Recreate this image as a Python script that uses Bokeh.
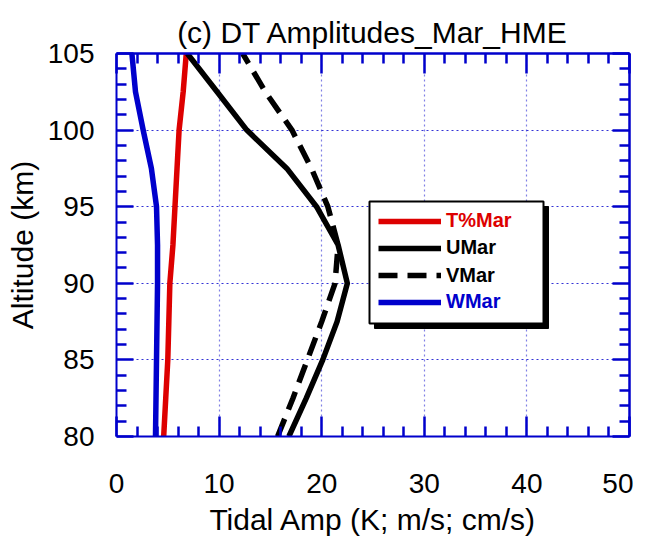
from bokeh.plotting import figure
from bokeh.models import (LinearAxis, Range1d, BoxAnnotation, Legend, LegendItem,
                          FixedTicker)
from bokeh.embed import file_html
from bokeh.resources import INLINE

# ---- data ----
altitude = [80, 82.5, 85, 87.5, 90, 92.5, 95, 97.5, 100, 102.5, 105]
t_mar = [4.6, 4.8, 5.0, 5.1, 5.2, 5.5, 5.7, 5.9, 6.1, 6.5, 6.8]
u_mar = [16.8, 18.5, 20.1, 21.5, 22.5, 21.6, 19.5, 16.6, 12.7, 9.8, 6.9]
v_mar = [15.7, 17.2, 18.6, 20.0, 21.3, 21.6, 20.6, 19.0, 17.1, 14.5, 12.3]
w_mar = [3.8, 3.85, 3.9, 3.95, 4.0, 4.0, 3.9, 3.4, 2.6, 1.85, 1.5]

x_ticks = [0, 10, 20, 30, 40, 50]
x_minor = [2, 4, 6, 8, 12, 14, 16, 18, 22, 24, 26, 28, 32, 34, 36, 38, 42, 44, 46, 48]
y_ticks = [80, 85, 90, 95, 100, 105]
y_minor = [81, 82, 83, 84, 86, 87, 88, 89, 91, 92, 93, 94, 96, 97, 98, 99, 101, 102, 103, 104]

title_text = "(c) DT Amplitudes_Mar_HME"
x_label = "Tidal Amp (K; m/s; cm/s)"
y_label = "Altitude (km)"
series_labels = ["T%Mar", "UMar", "VMar", "WMar"]

BLUE = "#0000CC"
RED = "#DD0000"
FONT = "Liberation Sans"

FL, FT = 116, 53          # frame left / top in figure px
FW, FH = 513, 383
p = figure(frame_width=FW, frame_height=FH,
           x_range=Range1d(0, 50), y_range=Range1d(80, 105),
           output_backend="svg", toolbar_location=None,
           min_border_left=FL, min_border_right=4,
           min_border_top=FT, min_border_bottom=100,
           background_fill_color="white", border_fill_color="white")
p.outline_line_color = None

xt = FixedTicker(ticks=x_ticks, minor_ticks=x_minor)
yt = FixedTicker(ticks=y_ticks, minor_ticks=y_minor)

def style_ticks(ax, major_in):
    ax.axis_line_color = BLUE
    ax.axis_line_width = 2
    ax.major_tick_line_color = BLUE
    ax.major_tick_line_width = 2.5
    ax.minor_tick_line_color = BLUE
    ax.minor_tick_line_width = 2.5
    ax.major_tick_in = major_in
    ax.major_tick_out = 0
    ax.minor_tick_in = 10
    ax.minor_tick_out = 0

xa = p.xaxis[0]
ya = p.yaxis[0]
xa.ticker = xt
ya.ticker = yt
style_ticks(xa, 20)
style_ticks(ya, 17)
for ax in (xa, ya):
    ax.major_label_text_font = FONT
    ax.major_label_text_font_size = "28px"
    ax.major_label_text_color = "black"
    ax.axis_label_text_font = FONT
    ax.axis_label_text_font_size = "30px"
    ax.axis_label_text_font_style = "normal"
    ax.axis_label_text_color = "black"
xa.major_label_standoff = 37
ya.major_label_standoff = 22
xa.axis_label = x_label
ya.axis_label = y_label
xa.axis_label_standoff = 7
ya.axis_label_standoff = 6

# mirrored ticks on top and right: label-free axes (ticks only via minor tick slots)
for side, majors, minors, major_len in (("above", x_ticks, x_minor, 20),
                                        ("right", y_ticks, y_minor, 17)):
    a_long = LinearAxis(ticker=FixedTicker(ticks=[], minor_ticks=majors))
    style_ticks(a_long, major_len)
    a_long.minor_tick_in = major_len
    p.add_layout(a_long, side)
    a_short = LinearAxis(ticker=FixedTicker(ticks=[], minor_ticks=minors))
    style_ticks(a_short, major_len)
    a_short.minor_tick_in = 10
    p.add_layout(a_short, side)

for g, t, a in ((p.xgrid[0], xt, 0.5), (p.ygrid[0], yt, 0.8)):
    g.ticker = t
    g.grid_line_color = BLUE
    g.grid_line_alpha = a
    g.grid_line_dash = "2 3"
    g.grid_line_width = 1.2

p.title.text = title_text
p.title.align = "center"
p.title.text_font = FONT
p.title.text_font_size = "30px"
p.title.text_font_style = "normal"
p.title.text_color = "black"
p.title.standoff = 9

r_t = p.line(t_mar, altitude, line_color=RED, line_width=5.5, line_join="round")
r_u = p.line(u_mar, altitude, line_color="black", line_width=5.5, line_join="round")
r_v = p.line(v_mar, altitude, line_color="black", line_width=5.5, line_dash="19 10")
r_w = p.line(w_mar, altitude, line_color=BLUE, line_width=5.5, line_join="round")

# ---- legend box (pixel geometry relative to figure) ----
def dx(px):
    return (px - FL) / FW * 50.0
def dy(py):
    return 105 - (py - FT) / FH * 25.0

bl, bt, br, bb = 369, 201, 543, 323
sh = 5
p.add_layout(BoxAnnotation(left=dx(bl + sh), right=dx(br + sh), top=dy(bt + sh), bottom=dy(bb + sh),
                           fill_color="black", fill_alpha=1, line_color="black", line_alpha=1))
p.add_layout(BoxAnnotation(left=dx(bl), right=dx(br), top=dy(bt), bottom=dy(bb),
                           fill_color="white", fill_alpha=1, line_color="black",
                           line_width=2, line_alpha=1))

rows = [220.7, 247.7, 275, 301.7]
colors = [RED, "black", "black", BLUE]
rends = [r_t, r_u, r_v, r_w]
for lab, r, c, yc in zip(series_labels, rends, colors, rows):
    leg = Legend(items=[LegendItem(label=lab, renderers=[r])],
                 location=(378 - FL, (FT + FH) - yc - 12),
                 glyph_width=63, glyph_height=24, label_height=24,
                 label_standoff=5, padding=0, margin=0, spacing=0,
                 border_line_color=None, background_fill_alpha=0,
                 label_text_color=c, label_text_font_style="bold",
                 label_text_font_size="20px", label_text_font=FONT)
    p.add_layout(leg)

open("out.html", "w").write(file_html(p, INLINE))
